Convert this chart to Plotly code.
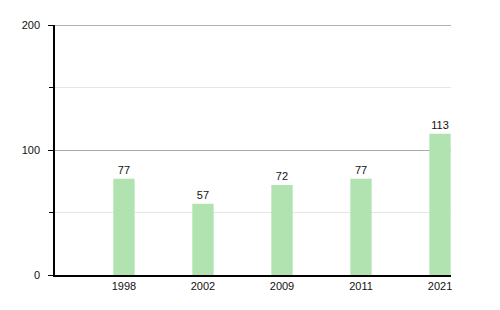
import plotly.graph_objects as go

years = ["1998", "2002", "2009", "2011", "2021"]
values = [77, 57, 72, 77, 113]
x_pos = list(range(len(years)))
y_max = 200

fig = go.Figure()
fig.add_trace(go.Bar(
    x=x_pos, y=values, width=0.27,
    marker=dict(color="rgb(176,227,176)", line=dict(width=0)),
    text=[str(v) for v in values], textposition="outside",
    textfont=dict(family="Liberation Sans, Arial, sans-serif", size=11, color="#111"),
    cliponaxis=False,
))
fig.add_shape(type="line", xref="paper", yref="y", x0=0, x1=1, y0=y_max, y1=y_max,
              line=dict(color="#999999", width=1.3), layer="above")
fig.update_layout(
    width=500, height=310,
    margin=dict(l=55, r=49, t=25, b=35),
    paper_bgcolor="white", plot_bgcolor="white",
    showlegend=False,
    font=dict(family="Liberation Sans, Arial, sans-serif", size=11, color="#111"),
    xaxis=dict(
        tickmode="array", tickvals=x_pos, ticktext=years,
        range=[-0.873, 4.139], showgrid=False, zeroline=False,
        showline=True, linecolor="black", linewidth=1.5, ticks="",
        tickfont=dict(size=11),
    ),
    yaxis=dict(
        range=[0, y_max], tickvals=[0, 100, 200], showgrid=True,
        gridcolor="#aaaaaa", gridwidth=1, zeroline=False,
        showline=True, linecolor="black", linewidth=1.5,
        ticks="outside", ticklen=5, tickcolor="black",
        ticklabelstandoff=6,
        tickfont=dict(size=11),
        minor=dict(tickvals=[50, 150], ticks="outside", ticklen=4, tickcolor="black",
                   showgrid=True, gridcolor="#e6e6e6", gridwidth=1),
    ),
)
fig.write_html("out.html")
